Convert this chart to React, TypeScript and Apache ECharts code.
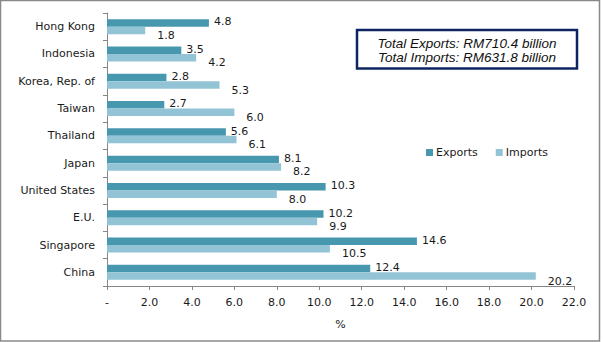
import React, { useEffect, useRef } from "react";
import * as echarts from "echarts";

const categories = ["China", "Singapore", "E.U.", "United States", "Japan", "Thailand", "Taiwan", "Korea, Rep. of", "Indonesia", "Hong Kong"];
const exportsData = [12.4, 14.6, 10.2, 10.3, 8.1, 5.6, 2.7, 2.8, 3.5, 4.8];
const importsData = [20.2, 10.5, 9.9, 8.0, 8.2, 6.1, 6.0, 5.3, 4.2, 1.8];
const seriesNames = ["Exports", "Imports"];
const boxLines = ["Total Exports: RM710.4 billion", "Total Imports: RM631.8 billion"];

const FONT = "DejaVu Sans";
const FS = 11;

export default function App() {
  const ref = useRef<HTMLDivElement>(null);
  useEffect(() => {
    if (!ref.current) return;
    const chart = echarts.init(ref.current, null, { renderer: "svg" });
    chart.setOption({
      animation: false,
      backgroundColor: "#ffffff",
      grid: { left: 107, right: 29, top: 13, bottom: 56, containLabel: false },
      legend: {
        data: seriesNames,
        left: 421,
        top: 142,
        itemWidth: 7,
        itemHeight: 7,
        itemGap: 18,
        icon: "rect",
        textStyle: { fontFamily: FONT, fontSize: FS, color: "#1a1a1a", padding: [0, 0, 0, -2] },
      },
      xAxis: {
        type: "value",
        min: 0,
        max: 22,
        interval: 2,
        name: "%",
        nameLocation: "middle",
        nameGap: 33,
        nameTextStyle: { fontFamily: FONT, fontSize: FS, color: "#1a1a1a" },
        splitLine: { show: false },
        axisLine: { show: true, lineStyle: { color: "#868686" } },
        axisTick: { show: true, length: 4, lineStyle: { color: "#868686" } },
        axisLabel: {
          fontFamily: FONT,
          fontSize: FS,
          color: "#1a1a1a",
          margin: 11,
          formatter: (v: number) => (v === 0 ? "-" : v.toFixed(1)),
        },
      },
      yAxis: {
        type: "category",
        data: categories,
        axisLine: { show: true, lineStyle: { color: "#868686" } },
        axisTick: { show: true, length: 4, lineStyle: { color: "#868686" } },
        axisLabel: { fontFamily: FONT, fontSize: FS, color: "#1a1a1a", margin: 12 },
      },
      series: [
        {
          name: "Exports",
          type: "bar",
          data: exportsData,
          barWidth: 7.5,
          barGap: "0%",
          itemStyle: { color: "#4797AE" },
          label: {
            show: true,
            position: "right",
            distance: 5,
            offset: [0, -1],
            fontFamily: FONT,
            fontSize: FS,
            color: "#1a1a1a",
            formatter: (p: any) => Number(p.value).toFixed(1),
          },
        },
        {
          name: "Imports",
          type: "bar",
          data: importsData,
          barWidth: 7.5,
          barGap: "0%",
          itemStyle: { color: "#93C4D5" },
          label: {
            show: true,
            position: "right",
            distance: 5,
            offset: [7, 5],
            fontFamily: FONT,
            fontSize: FS,
            color: "#1a1a1a",
            formatter: (p: any) => Number(p.value).toFixed(1),
          },
        },
      ],
      graphic: [
        {
          type: "rect",
          shape: { x: 0.5, y: 0.5, width: 599, height: 340.5 },
          style: { fill: "none", stroke: "#898989", lineWidth: 1.5 },
          silent: true,
        },
        {
          type: "rect",
          shape: { x: 357, y: 30, width: 220, height: 38.5 },
          style: { fill: "#ffffff", stroke: "#0E2460", lineWidth: 2.5 },
          silent: true,
        },
        {
          type: "text",
          x: 467,
          y: 43.5,
          style: {
            text: boxLines[0],
            fontFamily: "Liberation Sans",
            fontStyle: "italic",
            fontSize: 13.5,
            fill: "#111111",
            align: "center",
            verticalAlign: "middle",
          },
        },
        {
          type: "text",
          x: 467,
          y: 57.5,
          style: {
            text: boxLines[1],
            fontFamily: "Liberation Sans",
            fontStyle: "italic",
            fontSize: 13.5,
            fill: "#111111",
            align: "center",
            verticalAlign: "middle",
          },
        },
      ],
    });
    return () => chart.dispose();
  }, []);
  return (
    <div
      ref={ref}
      style={{ position: "fixed", left: 0, top: 0, width: 603, height: 342, background: "#fff" }}
    />
  );
}
